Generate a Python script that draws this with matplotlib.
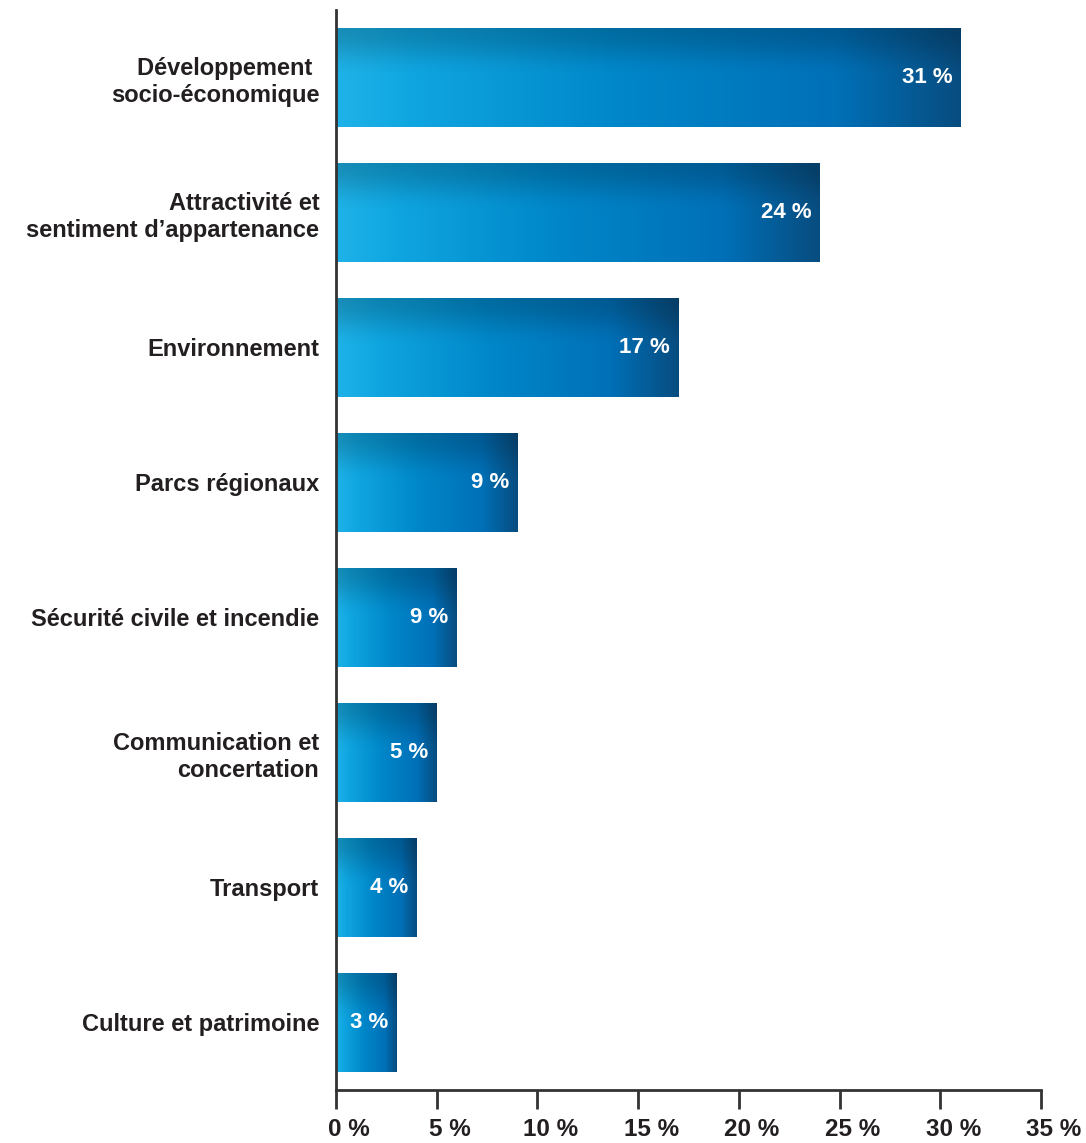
import numpy as np
import matplotlib
matplotlib.use("Agg")
import matplotlib.pyplot as plt
from matplotlib.ticker import FixedLocator
from matplotlib.transforms import ScaledTranslation

categories = ["Développement \nsocio-économique",
              "Attractivité et\nsentiment d’appartenance",
              "Environnement",
              "Parcs régionaux",
              "Sécurité civile et incendie",
              "Communication et\nconcertation",
              "Transport",
              "Culture et patrimoine"]
values = [31, 24, 17, 9, 6, 5, 4, 3]
value_labels = ["31 %", "24 %", "17 %", "9 %", "9 %", "5 %", "4 %", "3 %"]
xticks = [0, 5, 10, 15, 20, 25, 30, 35]
xtick_labels = ["0 %", "5 %", "10 %", "15 %", "20 %", "25 %", "30 %", "35 %"]

FONT = ["Liberation Sans", "DejaVu Sans"]
TXT = "#231f20"

fig = plt.figure(figsize=(10.86, 11.43), dpi=100)
ax = fig.add_axes([0.3094, 0.0464, 0.6492, 0.9449])

# gradient image
nx, ny = 300, 100
xs = np.linspace(0, 1, nx)
ys = np.linspace(0, 1, ny)
stops = np.array([0.0, 0.12, 0.45, 0.8, 1.0])
cols = np.array([[0.12, 0.70, 0.91],
                 [0.06, 0.65, 0.88],
                 [0.00, 0.53, 0.79],
                 [0.00, 0.44, 0.72],
                 [0.03, 0.30, 0.50]])
ramp = np.stack([np.interp(xs, stops, cols[:, c]) for c in range(3)], axis=-1)
img = np.repeat(ramp[None, :, :], ny, axis=0)
t = np.clip(ys / 0.5, 0, 1)
smooth = t * t * (3 - 2 * t)
shade = 1 - 0.2 * (1 - smooth)
img = img * shade[:, None, None]
img = np.clip(img, 0, 1)

h = 0.73
for i, v in enumerate(values):
    ax.imshow(img, extent=(0, v, i + h / 2, i - h / 2), aspect="auto",
              interpolation="bilinear", zorder=2)
    ax.annotate(value_labels[i], xy=(v, i), xytext=(-6, 0),
                textcoords="offset points", ha="right", va="center",
                color="white", fontsize=16, fontweight="bold", family=FONT,
                zorder=3)

ax.set_xlim(0, 35)
ax.set_ylim(7.5, -0.5)
ax.set_yticks(range(len(categories)))
ax.set_yticklabels(categories, fontsize=17, fontweight="bold", family=FONT,
                   color=TXT, linespacing=1.25)
ax.tick_params(axis="y", length=0, pad=12)
ax.xaxis.set_major_locator(FixedLocator(xticks))
ax.set_xticklabels(xtick_labels, fontsize=17.5, fontweight="bold", family=FONT,
                   color=TXT)
ax.tick_params(axis="x", direction="out", length=14, width=2, color="#333333", pad=6)
shift = ScaledTranslation(13 / 100, 0, fig.dpi_scale_trans)
for lab in ax.get_xticklabels():
    lab.set_transform(lab.get_transform() + shift)

for s in ["top", "right"]:
    ax.spines[s].set_visible(False)
for s in ["left", "bottom"]:
    ax.spines[s].set_color("#333333")
    ax.spines[s].set_linewidth(2)

fig.savefig("out.png", dpi=100)
